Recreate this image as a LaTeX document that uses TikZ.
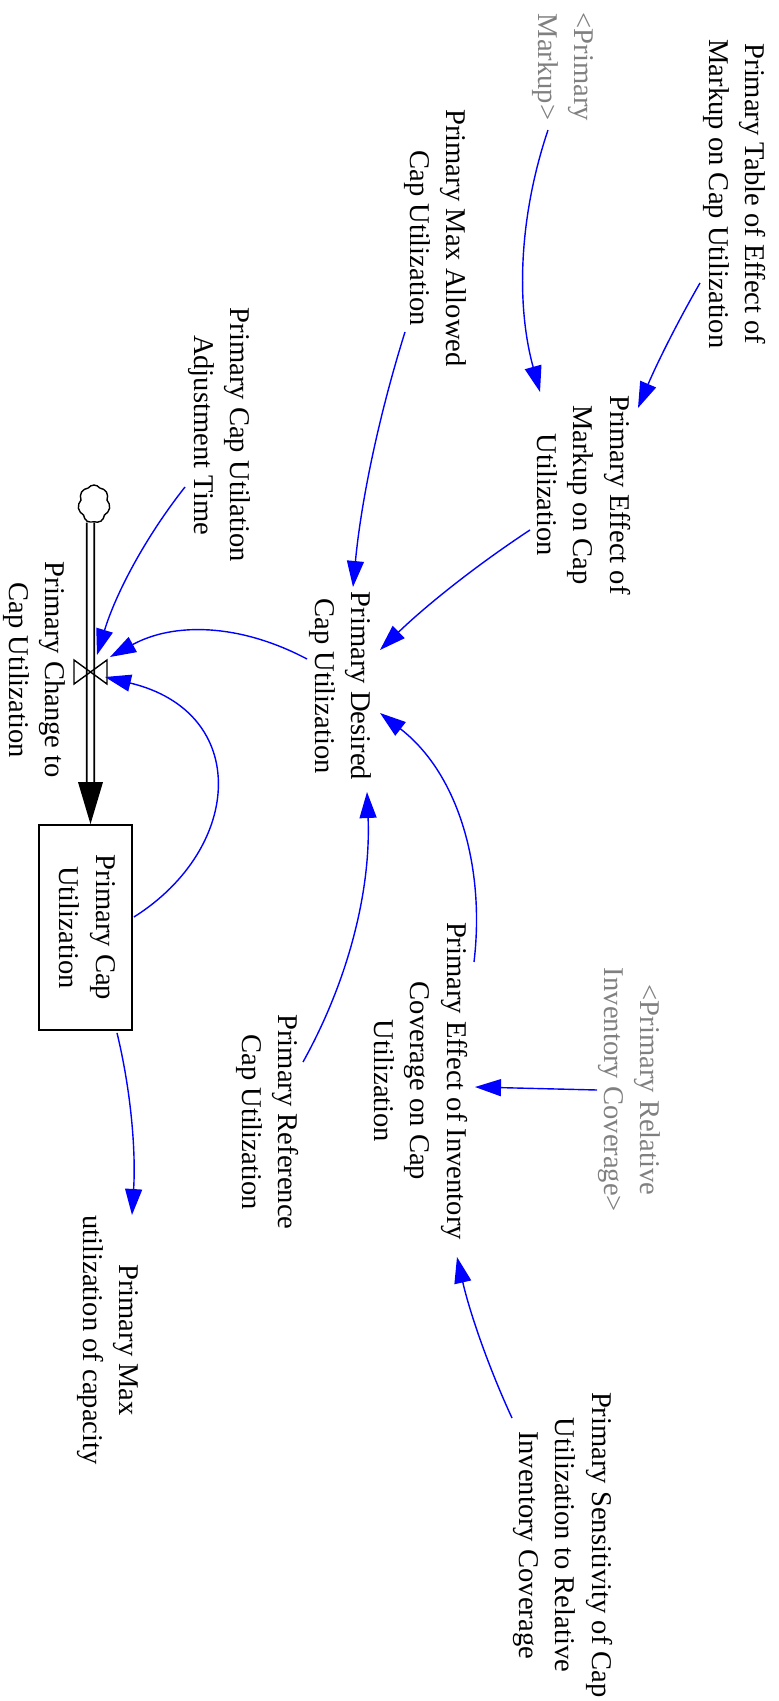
\documentclass[tikz,border=0pt]{standalone}
\usepackage{fontspec}
\setmainfont{Liberation Serif}
\usepackage{graphicx}
\usetikzlibrary{arrows.meta,calc,shapes.symbols}
\definecolor{vblue}{RGB}{0,0,255}
\definecolor{vgray}{RGB}{128,128,128}
\newcommand{\rtext}[1]{\rotatebox{-90}{\begin{tabular}{@{}c@{}}#1\end{tabular}}}
\begin{document}
\begin{tikzpicture}[x=0.5pt,y=-0.5pt,
  txt/.style={inner sep=0pt, font=\fontsize{14.3}{18.3}\selectfont},
  ghost/.style={txt, text=vgray},
  link/.style={draw=vblue, line width=0.7pt, -{Triangle[length=13pt,width=8.5pt]}},
  stockbox/.style={txt, draw, line width=0.9pt, minimum width=46.5pt, minimum height=102.5pt},
  pipe/.style={draw=black, line width=0.9pt, double=white, double distance=2.85pt},
  valveline/.style={draw=black, line width=0.7pt},
  cloudnode/.style={cloud, cloud puffs=7, cloud puff arc=110, draw, line width=0.7pt, minimum width=16pt, minimum height=19pt, inner sep=0pt}
]
\useasboundingbox (0,0) rectangle (778,1701);

% nodes
\node[txt] (tbl) at (735,194) {\rtext{Primary Table of Effect of\\Markup on Cap Utilization}};
\node[ghost] (mkp) at (564,67) {\rtext{<Primary\\Markup>}};
\node[txt] (maxa) at (436,238) {\rtext{Primary Max Allowed\\Cap Utilization}};
\node[txt] (adj) at (220,435) {\rtext{Primary Cap Utilation\\Adjustment Time}};
\node[txt] (eom) at (581,495) {\rtext{Primary Effect of\\Markup on Cap\\Utilization}};
\node[txt] (des) at (341,686) {\rtext{Primary Desired\\Cap Utilization}};
\node[txt] (chglbl) at (35,670) {\rtext{Primary Change to\\Cap Utilization}};
\node[stockbox] (stock) at (85.5,927.5) {\rtext{Primary Cap\\Utilization}};
\node[txt] (eic) at (418,1081) {\rtext{Primary Effect of Inventory\\Coverage on Cap\\Utilization}};
\node[ghost] (ric) at (630,1090) {\rtext{<Primary Relative\\Inventory Coverage>}};
\node[txt] (ref) at (268,1122) {\rtext{Primary Reference\\Cap Utilization}};
\node[txt] (mxc) at (109,1340) {\rtext{Primary Max\\utilization of capacity}};
\node[txt] (sen) at (563,1545) {\rtext{Primary Sensitivity of Cap\\Utilization to Relative\\Inventory Coverage}};

% flow
\node[cloudnode] (cloud) at (94,504) {};
\coordinate (valve) at (90.5,672);
\draw[pipe] ($(cloud.south)+(-3.5,0)$) -- ($(stock.north)+(5,-40)$);
\fill[black] ($(stock.north)+(-7.5,-42)$) -- ($(stock.north)+(17.5,-42)$) -- ($(stock.north)+(5,0)$) -- cycle;
\draw[valveline] ($(valve)+(-16.5,-12)$) -- ($(valve)+(-16.5,12)$) -- ($(valve)+(16.5,-12)$) -- ($(valve)+(16.5,12)$) -- cycle;

% links
\draw[link] ($(mkp)+(-16,63)$) .. controls (518.7,217.3) and (516,304.7) .. ($(eom)+(-41,-103)$);
\draw[link] ($(tbl)+(-35,89)$) .. controls (677.3,322.3) and (656.7,364) .. ($(eom)+(57,-87)$);
\draw[link] ($(maxa)+(-31,94)$) .. controls (378.3,417.3) and (361,502.3) .. ($(des)+(12,-99)$);
\draw[link] ($(eom)+(-51,35)$) .. controls (476.3,565.3) and (426.3,605.3) .. ($(des)+(39,-36)$);
\draw[link] ($(des)+(-34,-27)$) .. controls (239,623) and (173.3,622.3) .. ($(valve)+(19.5,-15)$);
\draw[link] ($(adj)+(-35,52)$) .. controls (145,537.7) and (115.7,593.7) .. ($(valve)+(6.5,-17)$);
\draw[link] ($(stock.east)+(1,-10.5)$) .. controls (243.5,848) and (251,712) .. ($(valve)+(14.5,5)$);
\draw[link] ($(ref)+(35,-60)$) .. controls (349.7,978) and (371,888) .. ($(des)+(26,106)$);
\draw[link] ($(eic)+(56,-119)$) .. controls (485,870) and (460,775) .. ($(des)+(39,27)$);
\draw[link] ($(ric)+(-33,0)$) -- ($(eic)+(57,6)$);
\draw[link] ($(sen)+(-51,-127)$) .. controls (488,1366) and (469.7,1312.3) .. ($(eic)+(39,176)$);
\draw[link] ($(stock.south)+(31.5,2)$) .. controls (131,1090.7) and (136,1151) .. ($(mxc)+(23,-125)$);
\end{tikzpicture}
\end{document}
